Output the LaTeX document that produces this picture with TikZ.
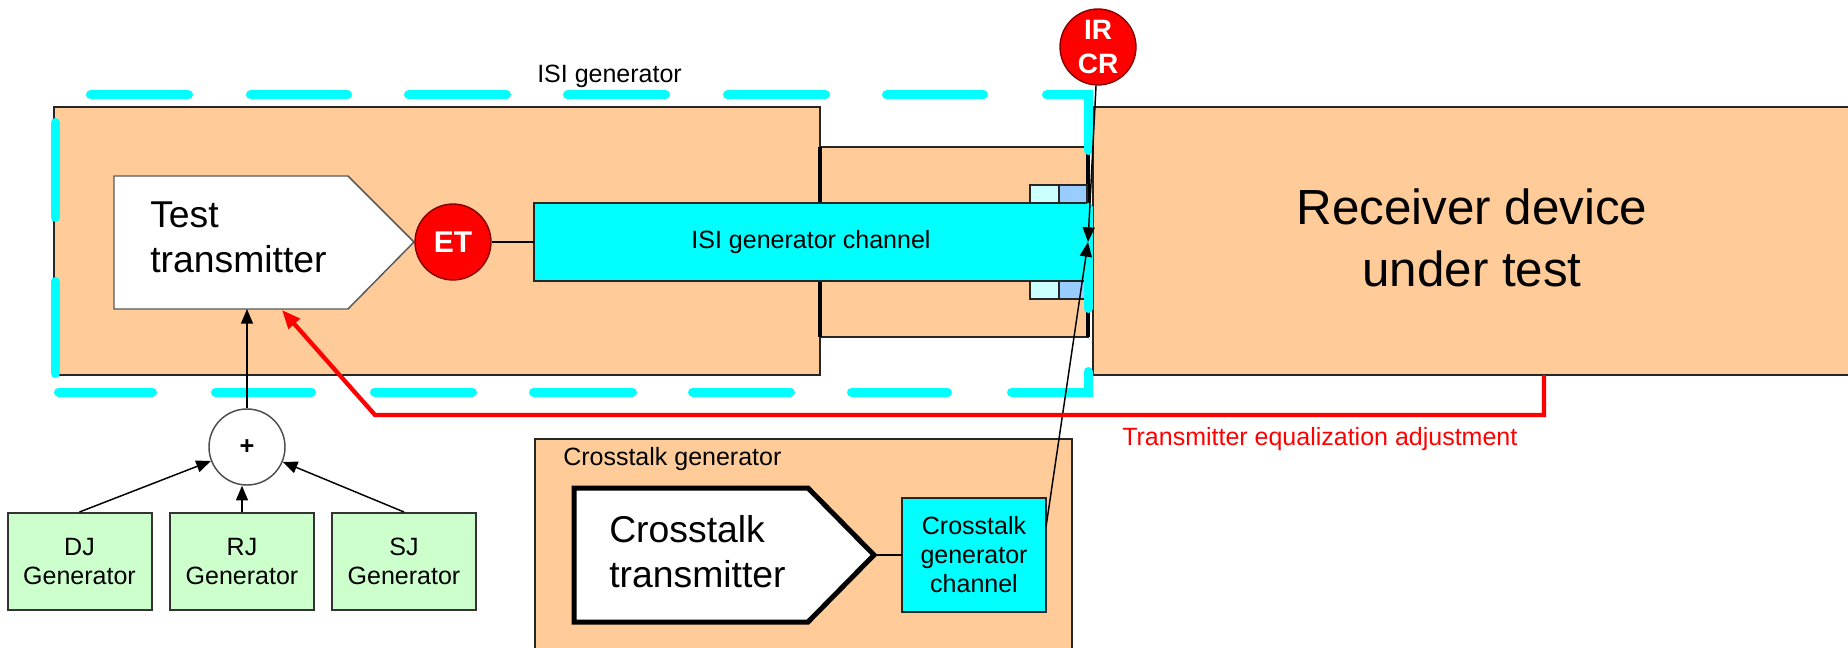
\documentclass[tikz,border=0pt]{standalone}
\usepackage{fontspec}
\setmainfont{Liberation Sans}
\usetikzlibrary{arrows.meta}
\definecolor{peach}{HTML}{FFCC99}
\definecolor{isicyan}{HTML}{00FFFF}
\definecolor{lcyan}{HTML}{CCFFFF}
\definecolor{lblue}{HTML}{99CCFF}
\definecolor{lgreen}{HTML}{CCFFCC}
\definecolor{redc}{HTML}{FF0000}
\newcommand\fsSmall{\fontsize{18.75pt}{21.75pt}\selectfont}
\newcommand\fsMid{\fontsize{28pt}{34pt}\selectfont}
\newcommand\fsBig{\fontsize{37pt}{46pt}\selectfont}
\newcommand\fsET{\fontsize{22.5pt}{26pt}\selectfont\bfseries}
\newcommand\fsIR{\fontsize{21pt}{25.5pt}\selectfont\bfseries}
\newcommand\fsPlus{\fontsize{19pt}{22pt}\selectfont\bfseries}
\begin{document}
\begin{tikzpicture}[x=0.75pt,y=-0.75pt,
  peachbox/.style={fill=peach, draw=black!85, line width=1.1pt},
  thickseg/.style={draw=black, line width=3.2pt},
  cyanseg/.style={draw=isicyan, line width=6.75pt, line cap=round},
  chbox/.style={draw=black!85, fill=isicyan, line width=1.1pt, inner sep=0pt, outer sep=0pt, align=center, font=\fsSmall},
  gen/.style={draw=black!80, fill=lgreen, line width=1.5pt, minimum width=108pt, minimum height=72.75pt, inner sep=0pt, align=center, font=\fsSmall},
  redcirc/.style={circle, fill=redc, draw=black!50!red, line width=1pt, minimum size=57pt, inner sep=0pt, text=white, align=center},
  sumc/.style={circle, draw=black!70, fill=white, line width=1.1pt, minimum size=57pt, inner sep=0pt, font=\fsPlus},
  conn/.style={draw=black, line width=1.1pt},
  arr/.style={draw=black, line width=1.1pt, -{Triangle[length=11pt,width=9pt]}},
  redarr/.style={draw=redc, line width=3.2pt, -{Triangle[length=14pt,width=11pt]}},
  lbl/.style={font=\fsSmall, anchor=base west, inner sep=0pt},
  midtxt/.style={font=\fsMid, anchor=base west, inner sep=0pt},
  bigtxt/.style={font=\fsBig, anchor=base, inner sep=0pt},
  sq/.style={draw=black!85, line width=1.1pt}
]
\useasboundingbox (0,0) rectangle (1848,648);

% ---------- boxes ----------
\draw[peachbox] (54,107) rectangle (820,375);
\draw[peachbox] (820,147) rectangle (1088,337);
\draw[peachbox] (1093,107) rectangle (1860,375);
\draw[peachbox] (535,439) rectangle (1072,660);

% thick walls of the middle box
\draw[thickseg] (820,147) -- (820,203);
\draw[thickseg] (820,281) -- (820,337);
\draw[thickseg] (1088,147) -- (1088,203);
\draw[thickseg] (1088,281) -- (1088,337);

% ISI generator channel
\node[chbox, minimum width=415.5pt, minimum height=58.5pt] (isich) at (811,242) {ISI generator channel};
\coordinate (chend) at (1088,242);

% small connector squares
\draw[sq, fill=lcyan] (1030,185) rectangle (1059,203);
\draw[sq, fill=lblue] (1059,185) rectangle (1087,203);
\draw[sq, fill=lcyan] (1030,281) rectangle (1059,299);
\draw[sq, fill=lblue] (1059,281) rectangle (1087,299);

% Test transmitter
\draw[line width=1.1pt, draw=black!65, fill=white] (114,176) -- (348,176) -- (414,242) -- (348,309) -- (114,309) -- cycle;
\coordinate (txin) at (247,309);
\coordinate (txfb) at (282,310);
\node[midtxt] (txt1) at (150,228) {Test};
\node[midtxt] (txt2) at (150,273) {transmitter};

% ET
\node[redcirc, font=\fsET] (ET) at (453,242) {ET};
\draw[conn] (ET) -- (isich);

% ---------- cyan dashed ISI generator outline ----------
\foreach \a/\b in {90.5/188.5, 250.5/347.5, 408.5/506.5, 567.5/665.5, 727.5/825.5, 886.5/983.5}
  \draw[cyanseg] (\a,95) -- (\b,95);
\draw[cyanseg] (1046.5,95) -- (1088,95) -- (1088,150.5);
\draw[cyanseg] (1088,207.5) -- (1088,308.5);
\draw[cyanseg] (1088,371.5) -- (1088,392) -- (1011.5,392);
\foreach \a/\b in {851.5/947.5, 692.5/790.5, 533.5/632.5, 374.5/472.5, 215.5/311.5, 58.5/152.5}
  \draw[cyanseg] (\a,392) -- (\b,392);
\draw[cyanseg] (55,281.5) -- (55,373.5);
\draw[cyanseg] (55,122.5) -- (55,217.5);

% IR / CR
\node[redcirc, font=\fsIR] (ircr) at (1098,47) {IR\\CR};
\draw[arr] (ircr) -- (chend);

% ---------- Crosstalk generator ----------
\draw[line width=3.75pt, fill=white] (574,488) -- (808,488) -- (874,555) -- (808,622) -- (574,622) -- cycle;
\coordinate (xttip) at (874,555);
\node[midtxt] (xtt1) at (609,542) {Crosstalk};
\node[midtxt] (xtt2) at (609,587) {transmitter};
\node[chbox, minimum width=108pt, minimum height=85.5pt] (xch) at (974,555) {Crosstalk\\generator\\channel};
\draw[conn] (xttip) -- (xch);
\coordinate (xchout) at (1046,527);
\draw[arr] (xchout) -- (chend);

% ---------- jitter generators ----------
\node[sumc] (sum) at (247,447) {+};
\node[gen] (DJ) at (79.5,561.5) {DJ\\Generator};
\node[gen] (RJ) at (242,561.5) {RJ\\Generator};
\node[gen] (SJ) at (404,561.5) {SJ\\Generator};
\draw[arr] (DJ.north) -- (sum);
\draw[arr] (RJ.north) -- (RJ.north |- sum.south);
\draw[arr] (SJ.north) -- (sum);
\draw[arr] (sum) -- (txin);

% ---------- receiver ----------
\node[bigtxt] (rx1) at (1472,225) {Receiver device};
\node[bigtxt] (rx2) at (1472,287) {under test};
\coordinate (rxadj) at (1544,375);
\coordinate (redbend) at (375,415);
\draw[redarr] (rxadj) |- (redbend) -- (txfb);
\node[lbl, text=redc] (eqlbl) at (1122,445) {Transmitter equalization adjustment};

% ---------- labels ----------
\node[lbl] (isilbl) at (537,83) {ISI generator};
\node[lbl] (xtlbl) at (563,465) {Crosstalk generator};
\end{tikzpicture}
\end{document}
